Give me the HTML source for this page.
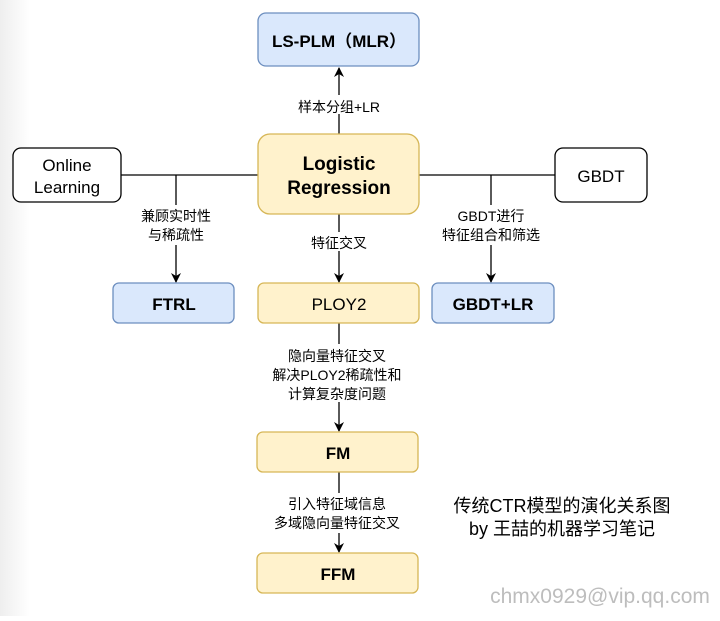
<!DOCTYPE html>
<html><head><meta charset="utf-8"><style>
html,body{margin:0;padding:0;background:#fff}
svg text{font-family:"Liberation Sans","Noto Sans CJK SC",sans-serif;fill:#000}
</style></head><body>
<svg width="720" height="616" viewBox="0 0 720 616" xmlns="http://www.w3.org/2000/svg">
<defs><linearGradient id="g" x1="0" x2="1"><stop offset="0" stop-color="#eee"/><stop offset="1" stop-color="#fff"/></linearGradient>
<marker id="a" markerWidth="10" markerHeight="10" refX="9" refY="5" orient="auto" markerUnits="userSpaceOnUse"><path d="M0,0 L10,5 L0,10 L3,5 Z" fill="#000"/></marker></defs>
<rect x="0" y="0" width="30" height="616" fill="url(#g)"/>
<g stroke="#000" stroke-width="1.3" fill="none">
<line x1="121" y1="175" x2="555" y2="175"/>
<line x1="339" y1="134" x2="339" y2="68" marker-end="url(#a)"/>
<line x1="176" y1="175" x2="176" y2="282" marker-end="url(#a)"/>
<line x1="491" y1="175" x2="491" y2="282" marker-end="url(#a)"/>
<line x1="339" y1="214" x2="339" y2="282" marker-end="url(#a)"/>
<line x1="339" y1="323" x2="339" y2="431" marker-end="url(#a)"/>
<line x1="339" y1="472" x2="339" y2="552" marker-end="url(#a)"/>
</g>
<g stroke-width="1.3">
<rect x="258" y="13" width="161" height="53" rx="8" fill="#dae8fc" stroke="#6c8ebf"/>
<rect x="258" y="134" width="161" height="80" rx="12" fill="#fff2cc" stroke="#d6b656"/>
<rect x="13" y="148" width="108" height="54" rx="8" fill="#fff" stroke="#000"/>
<rect x="555" y="148" width="92" height="54" rx="8" fill="#fff" stroke="#000"/>
<rect x="113" y="283" width="121" height="40" rx="6" fill="#dae8fc" stroke="#6c8ebf"/>
<rect x="258" y="283" width="161" height="40" rx="6" fill="#fff2cc" stroke="#d6b656"/>
<rect x="432" y="283" width="122" height="40" rx="6" fill="#dae8fc" stroke="#6c8ebf"/>
<rect x="257" y="432" width="161" height="40" rx="6" fill="#fff2cc" stroke="#d6b656"/>
<rect x="257" y="553" width="161" height="40" rx="6" fill="#fff2cc" stroke="#d6b656"/>
</g>
<g text-anchor="middle" font-size="17">
<text x="339" y="47" font-weight="bold">LS-PLM（MLR）</text>
<text x="339" y="170" font-weight="bold" font-size="19">Logistic</text>
<text x="339" y="194" font-weight="bold" font-size="19">Regression</text>
<text x="67" y="171">Online</text>
<text x="67" y="193">Learning</text>
<text x="601" y="182">GBDT</text>
<text x="174" y="310" font-weight="bold">FTRL</text>
<text x="339" y="310">PLOY2</text>
<text x="493" y="310" font-weight="bold">GBDT+LR</text>
<text x="338" y="459" font-weight="bold">FM</text>
<text x="338" y="580" font-weight="bold">FFM</text>
</g>
<g text-anchor="middle" font-size="14">
<rect x="275" y="95" width="128" height="19" fill="#fff"/>
<text x="339" y="112">样本分组+LR</text>
<rect x="132" y="205" width="88" height="40" fill="#fff"/>
<text x="176" y="221">兼顾实时性</text>
<text x="176" y="240">与稀疏性</text>
<rect x="300" y="232" width="78" height="19" fill="#fff"/>
<text x="339" y="248">特征交叉</text>
<rect x="438" y="205" width="108" height="40" fill="#fff"/>
<text x="491" y="221">GBDT进行</text>
<text x="491" y="240">特征组合和筛选</text>
<rect x="262" y="344" width="154" height="58" fill="#fff"/>
<text x="337" y="361">隐向量特征交叉</text>
<text x="337" y="380">解决PLOY2稀疏性和</text>
<text x="337" y="399">计算复杂度问题</text>
<rect x="268" y="493" width="142" height="40" fill="#fff"/>
<text x="337" y="509">引入特征域信息</text>
<text x="337" y="528">多域隐向量特征交叉</text>
</g>
<g text-anchor="middle" font-size="18">
<text x="562" y="512">传统CTR模型的演化关系图</text>
<text x="562" y="535">by 王喆的机器学习笔记</text>
</g>
<text x="600" y="603" text-anchor="middle" font-size="21" style="fill:#bdbdbd">chmx0929@vip.qq.com</text>
</svg>
</body></html>
